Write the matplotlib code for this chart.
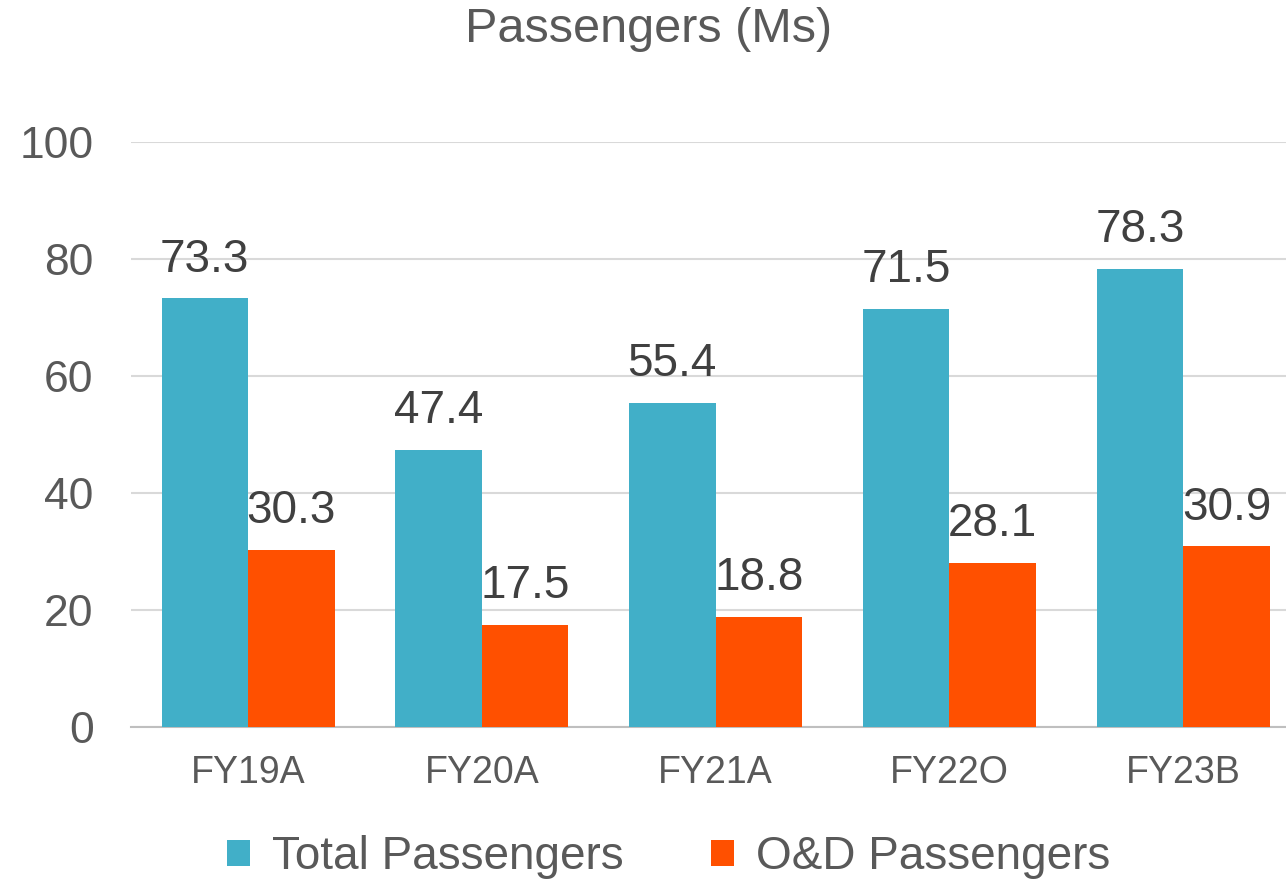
import numpy as np
import matplotlib.pyplot as plt

plt.rcParams['font.family'] = ['Liberation Sans', 'DejaVu Sans']

categories = ['FY19A', 'FY20A', 'FY21A', 'FY22O', 'FY23B']
total_pax = [73.3, 47.4, 55.4, 71.5, 78.3]
od_pax = [30.3, 17.5, 18.8, 28.1, 30.9]

teal = '#41AFC8'
orange = '#FF5000'
grey = '#595959'

fig = plt.figure(figsize=(12.86, 8.81), dpi=100)
ax = fig.add_axes([0.102, 0.1748, 0.898, 0.664])

x = np.arange(len(categories))
w = 0.37
b1 = ax.bar(x - w / 2, total_pax, w, color=teal, label='Total Passengers', zorder=3)
b2 = ax.bar(x + w / 2, od_pax, w, color=orange, label='O&D Passengers', zorder=3)

# value labels above each bar
for bars in (b1, b2):
    for r in bars:
        ax.annotate(f'{r.get_height():.1f}', (r.get_x() + r.get_width() / 2, r.get_height()),
                    xytext=(0, 12), textcoords='offset points', ha='center', va='bottom',
                    fontsize=33, color='#404040')

ax.set_ylim(0, 100)
ax.set_xlim(-0.5, 4.44)
ax.set_yticks(range(0, 101, 20))
ax.set_xticks(x)
ax.set_xticklabels(categories)
ax.tick_params(axis='y', length=0, labelsize=32, labelcolor=grey, pad=27)
ax.tick_params(axis='x', length=0, labelsize=27, labelcolor=grey, pad=20)
ax.grid(axis='y', color='#D9D9D9', linewidth=1.5, zorder=0)
for s in ['top', 'right', 'left']:
    ax.spines[s].set_visible(False)
ax.spines['bottom'].set_color('#BFBFBF')
ax.spines['bottom'].set_linewidth(1.5)

fig.text(0.504, 0.966, 'Passengers (Ms)', ha='center', va='center', fontsize=35, color=grey)

fig.legend(loc='center', bbox_to_anchor=(0.52, 0.027), ncol=2, frameon=False,
           fontsize=33, labelcolor=grey, handlelength=0.5, handleheight=0.5,
           columnspacing=1.9, handletextpad=0.48)

fig.savefig('out.png', dpi=100)
